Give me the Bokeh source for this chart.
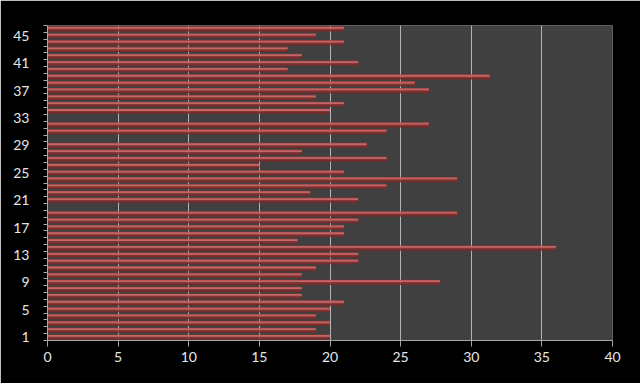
from bokeh.plotting import figure
from bokeh.models import ColumnDataSource, FixedTicker
from bokeh.transform import dodge
from bokeh.embed import file_html
from bokeh.resources import INLINE

categories = list(range(1, 47))
values = [20, 19, 20, 19, 20, 21, 18, 18, 27.8, 18,
          19, 22, 22, 36, 17.7, 21, 21, 22, 29, 0,
          22, 18.6, 24, 29, 21, 15, 24, 18, 22.6, 0,
          24, 27, 0, 20, 21, 19, 27, 26, 31.3, 17,
          22, 18, 17, 21, 19, 21]
x_ticks = [0, 5, 10, 15, 20, 25, 30, 35, 40]
y_ticks = [1, 5, 9, 13, 17, 21, 25, 29, 33, 37, 41, 45]
y_boundaries = [c - 0.5 for c in categories] + [categories[-1] + 0.5]

src = ColumnDataSource(data=dict(cat=categories, val=values))

p = figure(width=640, height=383, x_range=(0, 40),
           y_range=(categories[0] - 0.5, categories[-1] + 0.5),
           output_backend="svg", toolbar_location=None,
           min_border_left=47, min_border_right=28,
           min_border_top=25, min_border_bottom=43,
           background_fill_color="#404040", border_fill_color="black",
           outline_line_color=None)

# bar body
p.hbar(y="cat", left=0, right="val", height=0.76, source=src,
       fill_color="#963434", fill_alpha=0.8, line_color=None)
# darker lower edge
p.hbar(y=dodge("cat", -0.28), left=0, right="val", height=0.2, source=src,
       fill_color="#5a1c1c", fill_alpha=0.45, line_color=None)
# highlight stripe
p.hbar(y=dodge("cat", 0.16), left=0, right="val", height=0.26, source=src,
       fill_color="#d87676", fill_alpha=0.75, line_color=None)

font = "Lato"
lab_col = "#e6e6e6"
axis_col = "#a6a6a6"

p.xaxis.ticker = FixedTicker(ticks=x_ticks)
p.xaxis.major_label_text_font = font
p.xaxis.major_label_text_font_size = "14px"
p.xaxis.major_label_text_color = lab_col
p.xaxis.axis_line_color = axis_col
p.xaxis.major_tick_line_color = axis_col
p.xaxis.major_tick_out = 6
p.xaxis.major_tick_in = 0
p.xaxis.minor_tick_line_color = None
p.xaxis.major_label_standoff = 5

p.yaxis.ticker = FixedTicker(ticks=y_ticks, minor_ticks=y_boundaries)
p.yaxis.major_label_text_font = font
p.yaxis.major_label_text_font_size = "14px"
p.yaxis.major_label_text_color = lab_col
p.yaxis.axis_line_color = axis_col
p.yaxis.major_tick_line_color = None
p.yaxis.major_tick_out = 0
p.yaxis.major_tick_in = 0
p.yaxis.minor_tick_line_color = axis_col
p.yaxis.minor_tick_out = 4
p.yaxis.minor_tick_in = 0
p.yaxis.major_label_standoff = 14

p.xgrid.ticker = FixedTicker(ticks=x_ticks)
p.xgrid.grid_line_color = "#b4b4b4"
p.xgrid.grid_line_width = 1
p.ygrid.grid_line_color = None

open("out.html", "w").write(file_html(p, INLINE))
